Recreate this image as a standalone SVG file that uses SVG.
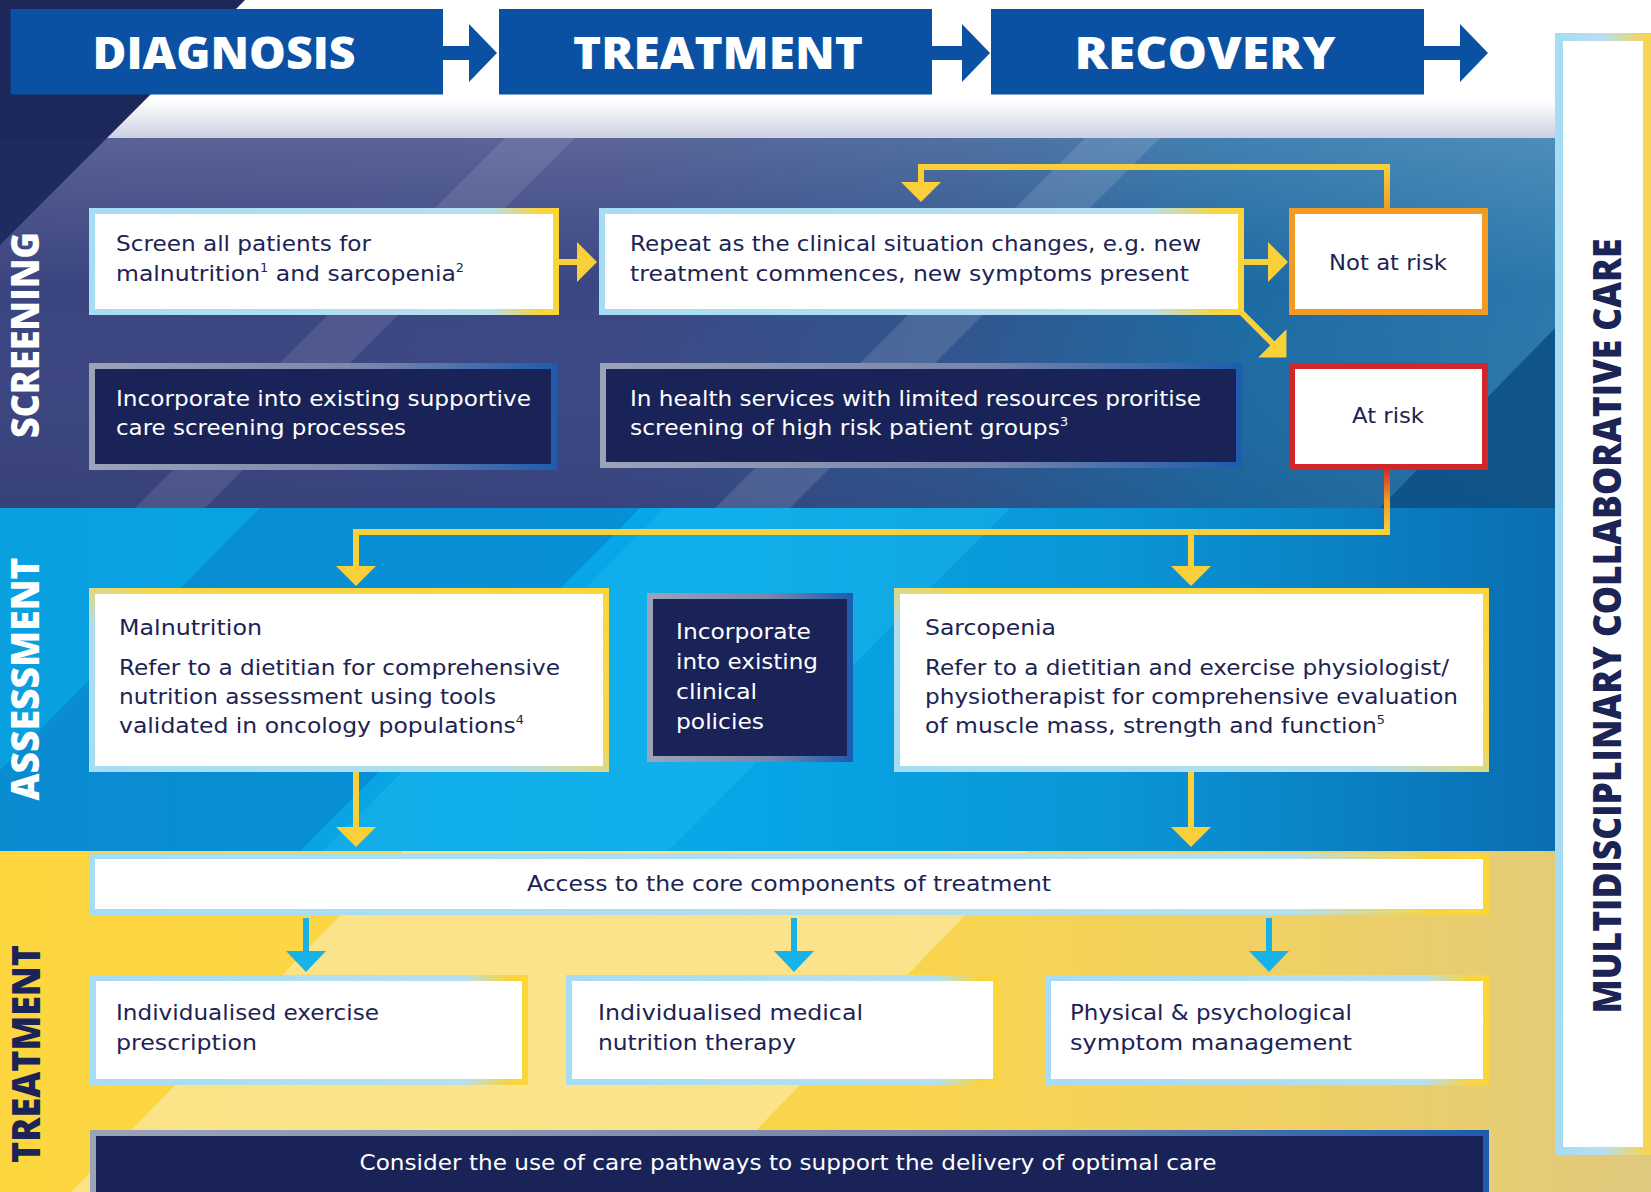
<svg xmlns="http://www.w3.org/2000/svg" width="1651" height="1192" viewBox="0 0 1651 1192">
<style>
.hdr{fill:#0b51a3}
.hdrt{fill:#fff;font-family:"Open Sans","DejaVu Sans",sans-serif;font-weight:800;font-size:45px;text-anchor:middle}
.lab{font-family:"Open Sans","DejaVu Sans",sans-serif;font-weight:800;font-size:39px;text-anchor:middle}
.t{font-family:"DejaVu Sans","Liberation Sans",sans-serif;font-size:22px;fill:#1d2352}
.tw{font-family:"DejaVu Sans","Liberation Sans",sans-serif;font-size:22px;fill:#ffffff}
.c{text-anchor:middle}
.wb{fill:#ffffff;stroke:url(#edge);stroke-width:6}
.wd{fill:#ffffff;stroke:url(#edgeD);stroke-width:6}
.db{fill:#1a2358;stroke:url(#dark);stroke-width:6}
.y{fill:none;stroke:#f9cf3a;stroke-width:6}
.cy{fill:none;stroke:#19b2e6;stroke-width:6}
.sup{font-size:12px}
</style>
<defs>
<linearGradient id="edge" x1="0" y1="0" x2="1" y2="0">
<stop offset="0" stop-color="#a6dcf4"/><stop offset="0.86" stop-color="#b6e0ee"/><stop offset="0.96" stop-color="#f8d443"/><stop offset="1" stop-color="#fbd63a"/>
</linearGradient>
<linearGradient id="edgeD" x1="0" y1="1" x2="1" y2="0">
<stop offset="0" stop-color="#a6dcf4"/><stop offset="0.4" stop-color="#b0def0"/><stop offset="0.56" stop-color="#f6d54a"/><stop offset="1" stop-color="#fbd63a"/>
</linearGradient>
<linearGradient id="dark" x1="0" y1="0" x2="1" y2="0">
<stop offset="0" stop-color="#9aa3b8"/><stop offset="0.6" stop-color="#7985aa"/><stop offset="1" stop-color="#1f5cae"/>
</linearGradient>
<linearGradient id="mdc" x1="0" y1="0" x2="1" y2="0">
<stop offset="0" stop-color="#a6dcf4"/><stop offset="0.5" stop-color="#b9def0"/><stop offset="1" stop-color="#f6d552"/>
</linearGradient>
<linearGradient id="strip" x1="0" y1="0" x2="0" y2="1">
<stop offset="0" stop-color="#ffffff"/><stop offset="1" stop-color="#ccd0e2"/>
</linearGradient>
<linearGradient id="scr" x1="0" y1="0" x2="1" y2="0">
<stop offset="0" stop-color="#3a447f"/><stop offset="0.4" stop-color="#3b4784"/><stop offset="0.62" stop-color="#2f558f"/><stop offset="0.8" stop-color="#1d6aa3"/><stop offset="1" stop-color="#2b78ad"/>
</linearGradient>
<linearGradient id="scrTop" x1="0" y1="0" x2="0" y2="1">
<stop offset="0" stop-color="#ffffff" stop-opacity="0.16"/><stop offset="0.4" stop-color="#ffffff" stop-opacity="0"/><stop offset="1" stop-color="#000000" stop-opacity="0.05"/>
</linearGradient>
<linearGradient id="ass" x1="0" y1="0" x2="1" y2="0">
<stop offset="0" stop-color="#0aa0e0"/><stop offset="0.45" stop-color="#06a8e8"/><stop offset="0.72" stop-color="#0a95d6"/><stop offset="1" stop-color="#0a6eb3"/>
</linearGradient>
<linearGradient id="trt" x1="0" y1="0" x2="1" y2="0">
<stop offset="0" stop-color="#fdd63f"/><stop offset="0.55" stop-color="#f9d54e"/><stop offset="0.8" stop-color="#efd066"/><stop offset="1" stop-color="#dfc97e"/>
</linearGradient>
<linearGradient id="upO" gradientUnits="userSpaceOnUse" x1="0" y1="210" x2="0" y2="167">
<stop offset="0" stop-color="#f29a22"/><stop offset="1" stop-color="#f9cf3a"/>
</linearGradient>
<linearGradient id="downR" gradientUnits="userSpaceOnUse" x1="0" y1="468" x2="0" y2="532">
<stop offset="0" stop-color="#d3262b"/><stop offset="0.5" stop-color="#f29a22"/><stop offset="1" stop-color="#f9cf3a"/>
</linearGradient>
<marker id="hy" viewBox="0 0 20 40" refX="1" refY="20" markerWidth="20" markerHeight="40" markerUnits="userSpaceOnUse" orient="auto">
<path d="M0,0 L20,20 L0,40 Z" fill="#f9cf3a"/>
</marker>
<marker id="hc" viewBox="0 0 21 40" refX="1" refY="20" markerWidth="21" markerHeight="40" markerUnits="userSpaceOnUse" orient="auto">
<path d="M0,0 L21,20 L0,40 Z" fill="#19b2e6"/>
</marker>
<marker id="hn" viewBox="0 0 28 58" refX="1" refY="29" markerWidth="28" markerHeight="58" markerUnits="userSpaceOnUse" orient="auto">
<path d="M0,0 L28,29 L0,58 Z" fill="#0b51a3"/>
</marker>
</defs>

<g id="background">
<rect x="0" y="0" width="1651" height="1192" fill="#ffffff"/>
<rect x="0" y="100" width="1555" height="38" fill="url(#strip)"/>
<polygon points="0,0 245,0 107,138 0,138" fill="#1c275a"/>
<rect x="0" y="138" width="1555" height="370" fill="url(#scr)"/>
<rect x="0" y="138" width="1555" height="370" fill="url(#scrTop)"/>
<polygon points="0,138 107,138 0,245" fill="#1f2a5e"/>
<polygon points="505,138 575,138 205,508 135,508" fill="#ffffff" opacity="0.1"/>
<polygon points="1085,138 1160,138 790,508 715,508" fill="#ffffff" opacity="0.12"/>
<polygon points="1555,328 1555,508 1380,508" fill="#0b4f85" opacity="0.85"/>
<rect x="0" y="508" width="1555" height="343" fill="url(#ass)"/>
<polygon points="260,508 640,508 300,851 -80,851" fill="#0a6fbc" opacity="0.4"/>
<polygon points="665,508 1010,508 668,851 323,851" fill="#28c2f5" opacity="0.3"/>
<rect x="0" y="851" width="1651" height="341" fill="url(#trt)"/>
<polygon points="403,851 1028,851 696,1192 71,1192" fill="#fbe7a0" opacity="0.75"/>
</g>

<g id="header-diagnosis">
<rect class="hdr" x="10.5" y="9" width="432.5" height="85.5"/>
<text class="hdrt" x="224" y="69" textLength="263" lengthAdjust="spacingAndGlyphs">DIAGNOSIS</text>
</g>
<g id="header-treatment">
<rect class="hdr" x="499" y="9" width="433" height="85.5"/>
<text class="hdrt" x="718" y="69" textLength="290" lengthAdjust="spacingAndGlyphs">TREATMENT</text>
</g>
<g id="header-recovery">
<rect class="hdr" x="991" y="9" width="433" height="85.5"/>
<text class="hdrt" x="1205" y="69" textLength="261" lengthAdjust="spacingAndGlyphs">RECOVERY</text>
</g>

<g id="label-screening">
<text class="lab" fill="#ffffff" transform="translate(39,335) rotate(-90)" textLength="206" lengthAdjust="spacingAndGlyphs">SCREENING</text>
</g>
<g id="label-assessment">
<text class="lab" fill="#ffffff" transform="translate(39,679) rotate(-90)" textLength="243" lengthAdjust="spacingAndGlyphs">ASSESSMENT</text>
</g>
<g id="label-treatment">
<text class="lab" fill="#1b2454" transform="translate(40,1054) rotate(-90)" textLength="218" lengthAdjust="spacingAndGlyphs">TREATMENT</text>
</g>

<g id="mdc">
<rect x="1559" y="37" width="88" height="1114" fill="#ffffff" stroke="url(#mdc)" stroke-width="8"/>
<text class="lab" fill="#1b2454" font-size="41" transform="translate(1621,626) rotate(-90)" textLength="775" lengthAdjust="spacingAndGlyphs">MULTIDISCIPLINARY COLLABORATIVE CARE</text>
</g>

<g id="node-screen">
<rect class="wb" x="92" y="211" width="464" height="101"/>
<text class="t" x="116" y="251" textLength="255" lengthAdjust="spacingAndGlyphs">Screen all patients for</text>
<text class="t" x="116" y="281" textLength="348" lengthAdjust="spacingAndGlyphs">malnutrition<tspan class="sup" dy="-9">1</tspan><tspan dy="9"> and sarcopenia</tspan><tspan class="sup" dy="-9">2</tspan></text>
</g>
<g id="node-repeat">
<rect class="wb" x="602" y="211" width="639" height="101"/>
<text class="t" x="630" y="251" textLength="571" lengthAdjust="spacingAndGlyphs">Repeat as the clinical situation changes, e.g. new</text>
<text class="t" x="630" y="281" textLength="559" lengthAdjust="spacingAndGlyphs">treatment commences, new symptoms present</text>
</g>
<g id="node-notatrisk">
<rect x="1292" y="211" width="193" height="101" fill="#ffffff" stroke="#f29a22" stroke-width="6"/>
<text class="t c" x="1388" y="270" textLength="118" lengthAdjust="spacingAndGlyphs">Not at risk</text>
</g>
<g id="node-incorporate-screening">
<rect class="db" x="92" y="366" width="462" height="101"/>
<text class="tw" x="116" y="406" textLength="415" lengthAdjust="spacingAndGlyphs">Incorporate into existing supportive</text>
<text class="tw" x="116" y="435" textLength="290" lengthAdjust="spacingAndGlyphs">care screening processes</text>
</g>
<g id="node-limited">
<rect class="db" x="603" y="366" width="636" height="99"/>
<text class="tw" x="630" y="406" textLength="571" lengthAdjust="spacingAndGlyphs">In health services with limited resources proritise</text>
<text class="tw" x="630" y="435" textLength="438" lengthAdjust="spacingAndGlyphs">screening of high risk patient groups<tspan class="sup" dy="-9">3</tspan></text>
</g>
<g id="node-atrisk">
<rect x="1292" y="366" width="193" height="101" fill="#ffffff" stroke="#d3262b" stroke-width="6"/>
<text class="t c" x="1388" y="423" textLength="72" lengthAdjust="spacingAndGlyphs">At risk</text>
</g>

<g id="node-malnutrition">
<rect class="wd" x="92" y="591" width="514" height="178"/>
<text class="t" x="119" y="635" textLength="143" lengthAdjust="spacingAndGlyphs">Malnutrition</text>
<text class="t" x="119" y="675" textLength="441" lengthAdjust="spacingAndGlyphs">Refer to a dietitian for comprehensive</text>
<text class="t" x="119" y="704" textLength="377" lengthAdjust="spacingAndGlyphs">nutrition assessment using tools</text>
<text class="t" x="119" y="733" textLength="405" lengthAdjust="spacingAndGlyphs">validated in oncology populations<tspan class="sup" dy="-9">4</tspan></text>
</g>
<g id="node-policies">
<rect class="db" x="650" y="596" width="200" height="163"/>
<text class="tw" x="676" y="639" textLength="135" lengthAdjust="spacingAndGlyphs">Incorporate</text>
<text class="tw" x="676" y="669" textLength="142" lengthAdjust="spacingAndGlyphs">into existing</text>
<text class="tw" x="676" y="699" textLength="81" lengthAdjust="spacingAndGlyphs">clinical</text>
<text class="tw" x="676" y="729" textLength="88" lengthAdjust="spacingAndGlyphs">policies</text>
</g>
<g id="node-sarcopenia">
<rect class="wd" x="897" y="591" width="589" height="178"/>
<text class="t" x="925" y="635" textLength="131" lengthAdjust="spacingAndGlyphs">Sarcopenia</text>
<text class="t" x="925" y="675" textLength="524" lengthAdjust="spacingAndGlyphs">Refer to a dietitian and exercise physiologist/</text>
<text class="t" x="925" y="704" textLength="533" lengthAdjust="spacingAndGlyphs">physiotherapist for comprehensive evaluation</text>
<text class="t" x="925" y="733" textLength="460" lengthAdjust="spacingAndGlyphs">of muscle mass, strength and function<tspan class="sup" dy="-9">5</tspan></text>
</g>

<g id="node-access">
<rect class="wb" x="92" y="856" width="1394" height="56"/>
<text class="t c" x="789" y="891" textLength="524" lengthAdjust="spacingAndGlyphs">Access to the core components of treatment</text>
</g>
<g id="node-exercise">
<rect class="wb" x="93" y="978" width="432" height="104"/>
<text class="t" x="116" y="1020" textLength="263" lengthAdjust="spacingAndGlyphs">Individualised exercise</text>
<text class="t" x="116" y="1050" textLength="141" lengthAdjust="spacingAndGlyphs">prescription</text>
</g>
<g id="node-mnt">
<rect class="wb" x="569" y="978" width="427" height="104"/>
<text class="t" x="598" y="1020" textLength="265" lengthAdjust="spacingAndGlyphs">Individualised medical</text>
<text class="t" x="598" y="1050" textLength="198" lengthAdjust="spacingAndGlyphs">nutrition therapy</text>
</g>
<g id="node-symptom">
<rect class="wb" x="1048" y="978" width="438" height="104"/>
<text class="t" x="1070" y="1020" textLength="282" lengthAdjust="spacingAndGlyphs">Physical &amp; psychological</text>
<text class="t" x="1070" y="1050" textLength="282" lengthAdjust="spacingAndGlyphs">symptom management</text>
</g>
<g id="node-pathways">
<rect class="db" x="93" y="1133" width="1393" height="70"/>
<text class="tw c" x="788" y="1170" textLength="857" lengthAdjust="spacingAndGlyphs">Consider the use of care pathways to support the delivery of optimal care</text>
</g>

<g id="connectors">
<path d="M443,53 H470" fill="none" stroke="#0b51a3" stroke-width="14" marker-end="url(#hn)"/>
<path d="M932,53 H963" fill="none" stroke="#0b51a3" stroke-width="14" marker-end="url(#hn)"/>
<path d="M1424,53 H1461" fill="none" stroke="#0b51a3" stroke-width="14" marker-end="url(#hn)"/>
<path class="y" d="M559,262 H578" marker-end="url(#hy)"/>
<path class="y" d="M1244,262 H1269" marker-end="url(#hy)"/>
<path class="y" d="M1241,312 L1273,344" marker-end="url(#hy)"/>
<path d="M1387,210 V167" fill="none" stroke="url(#upO)" stroke-width="6"/>
<path class="y" d="M1390,167 H921 V183" marker-end="url(#hy)"/>
<path d="M1387,468 V532" fill="none" stroke="url(#downR)" stroke-width="6"/>
<path class="y" d="M1390,532 H356 V567" marker-end="url(#hy)"/>
<path class="y" d="M1191,532 V567" marker-end="url(#hy)"/>
<path class="y" d="M356,772 V828" marker-end="url(#hy)"/>
<path class="y" d="M1191,772 V828" marker-end="url(#hy)"/>
<path class="cy" d="M306,918 V952" marker-end="url(#hc)"/>
<path class="cy" d="M794,918 V952" marker-end="url(#hc)"/>
<path class="cy" d="M1269,918 V952" marker-end="url(#hc)"/>
</g>
</svg>
